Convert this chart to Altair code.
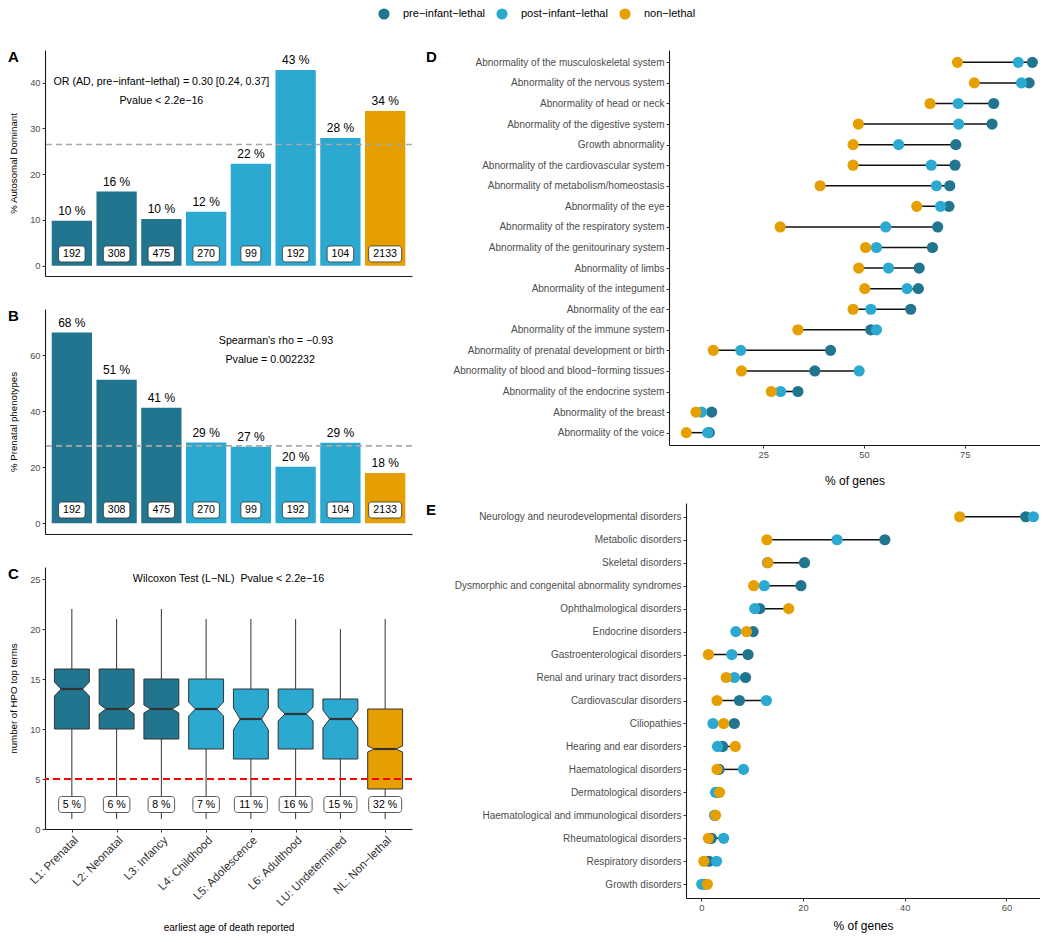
import json
import altair as alt
import pandas as pd

FONT = "Liberation Sans"

# ---------------- data ----------------
groups = ["pre−infant−lethal", "post−infant−lethal", "non−lethal"]
group_colors = ["#21758F", "#2BA9D1", "#E69F00"]

stages = ["L1: Prenatal", "L2: Neonatal", "L3: Infancy", "L4: Childhood",
          "L5: Adolescence", "L6: Adulthood", "LU: Undetermined", "NL: Non−lethal"]
stage_idx = [1, 2, 3, 4, 5, 6, 7, 8]
stage_group = [groups[0]] * 3 + [groups[1]] * 4 + [groups[2]]
stage_n = [192, 308, 475, 270, 99, 192, 104, 2133]

# Panel A: % autosomal dominant
ad_pct = [9.8, 16.2, 10.2, 11.8, 22.3, 42.8, 27.9, 33.8]
ad_overall = [26.5]
ad_notes = ["OR (AD, pre−infant−lethal) = 0.30 [0.24, 0.37]", "Pvalue < 2.2e−16"]
ad_note_x = [3.0, 3.0]
ad_note_y = [40.0, 36.0]
ad_n_y = 2.57

# Panel B: % prenatal phenotypes
pre_pct = [68.0, 51.2, 41.2, 28.8, 27.3, 20.2, 28.7, 17.9]
pre_overall = [27.6]
pre_notes = ["Spearman's rho = −0.93", "Pvalue = 0.002232"]
pre_note_x = [5.56, 5.43]
pre_note_y = [65.1, 58.2]
pre_n_y = 4.75

# Panel C: number of HPO top terms (boxplot stats)
hpo_min = [1, 1, 1, 1, 1, 1, 1, 1]
hpo_q1 = [10, 10, 9, 8, 7, 8, 7, 4]
hpo_med = [14, 12, 12, 12, 11, 11.5, 11, 8]
hpo_q3 = [16, 16, 15, 15, 14, 14, 13, 12]
hpo_max = [22, 21, 22, 21, 21, 21, 20, 21]
hpo_notch_lo = [13.3, 11.5, 11.6, 11.3, 9.9, 10.8, 10.1, 7.7]
hpo_notch_hi = [14.7, 12.5, 12.4, 12.7, 12.1, 12.2, 11.9, 8.3]
hpo_low_pct = [5, 6, 8, 7, 11, 16, 15, 32]
hpo_threshold = [5]
hpo_notes = ["Wilcoxon Test (L−NL) \u00a0Pvalue < 2.2e−16"]
hpo_note_x = [4.5]
hpo_note_y = [25.0]
hpo_lab_y = 2.45

# Panel D: HPO systems
d_cats = [
    "Abnormality of the musculoskeletal system",
    "Abnormality of the nervous system",
    "Abnormality of head or neck",
    "Abnormality of the digestive system",
    "Growth abnormality",
    "Abnormality of the cardiovascular system",
    "Abnormality of metabolism/homeostasis",
    "Abnormality of the eye",
    "Abnormality of the respiratory system",
    "Abnormality of the genitourinary system",
    "Abnormality of limbs",
    "Abnormality of the integument",
    "Abnormality of the ear",
    "Abnormality of the immune system",
    "Abnormality of prenatal development or birth",
    "Abnormality of blood and blood−forming tissues",
    "Abnormality of the endocrine system",
    "Abnormality of the breast",
    "Abnormality of the voice",
]
d_pre = [91.8, 91.0, 82.2, 81.8, 72.8, 72.6, 71.3, 71.1, 68.3, 67.0, 63.7, 63.5, 61.6, 51.7, 41.7, 37.8, 33.6, 12.2, 11.6]
d_post = [88.3, 89.1, 73.4, 73.5, 58.6, 66.7, 68.0, 69.0, 55.4, 53.1, 56.1, 60.7, 51.7, 53.1, 19.4, 48.8, 29.3, 9.7, 11.2]
d_non = [73.2, 77.4, 66.4, 48.6, 47.3, 47.3, 39.1, 63.1, 29.2, 50.4, 48.7, 50.2, 47.3, 33.6, 12.6, 19.6, 27.0, 8.3, 5.9]

# Panel E: disorder groups
e_cats = [
    "Neurology and neurodevelopmental disorders",
    "Metabolic disorders",
    "Skeletal disorders",
    "Dysmorphic and congenital abnormality syndromes",
    "Ophthalmological disorders",
    "Endocrine disorders",
    "Gastroenterological disorders",
    "Renal and urinary tract disorders",
    "Cardiovascular disorders",
    "Ciliopathies",
    "Hearing and ear disorders",
    "Haematological disorders",
    "Dermatological disorders",
    "Haematological and immunological disorders",
    "Rheumatological disorders",
    "Respiratory disorders",
    "Growth disorders",
]
e_pre = [63.8, 36.1, 20.3, 19.6, 11.5, 10.2, 9.2, 8.7, 7.5, 6.5, 4.2, 3.5, 3.2, 2.7, 2.0, 1.5, 0.6]
e_post = [65.3, 26.7, 13.0, 12.4, 10.5, 6.8, 6.0, 6.5, 12.8, 2.3, 3.2, 8.3, 2.8, 2.6, 4.4, 3.0, 0.1]
e_non = [50.8, 12.9, 13.1, 10.3, 17.2, 8.9, 1.4, 4.9, 3.1, 4.4, 6.7, 3.1, 3.6, 2.8, 1.4, 0.5, 1.2]

# ---------------- style / layout ----------------
W_LEFT = 367
X_DOM = [0.4, 8.6]
PX_PER_IDX = W_LEFT / (X_DOM[1] - X_DOM[0])
BOX_PX = 16.0
BAR_HALF = 0.45
BOX_HALF = 0.39
NOTCH_HALF = 0.24
TITLE_DY = 15
NOTE_LINE_PX = 19


def color_enc():
    return alt.Color(
        "group:N",
        scale=alt.Scale(domain=groups, range=group_colors),
        legend=alt.Legend(
            title=None, orient="none", legendX=333, legendY=-42, direction="horizontal",
            symbolType="circle", symbolSize=125, symbolStrokeWidth=0, gridAlign="none",
            labelFont=FONT, labelFontSize=11, labelColor="black",
            labelOffset=13, columnPadding=11, padding=0,
        ),
    )


def panel_title(letter, dx):
    return alt.TitleParams(text=letter, anchor="start", frame="group", dx=dx, dy=TITLE_DY,
                           offset=0, baseline="top", fontSize=15, fontWeight="bold",
                           font=FONT, color="black")


def label_boxes(df, text_expr, label_y, box_h, X, Y):
    base = alt.Chart(df).transform_calculate(
        lab=text_expr,
    ).transform_calculate(
        hw=f"(6.5 * length(datum.lab) + 7) / 2 / {PX_PER_IDX}",
    ).transform_calculate(
        bx0="datum.idx - datum.hw", bx1="datum.idx + datum.hw",
        ly=f"{label_y}", by0=f"{label_y - box_h / 2}", by1=f"{label_y + box_h / 2}",
    )
    rect = base.mark_rect(fill="white", stroke="#333333", strokeWidth=0.8, cornerRadius=3).encode(
        x=X("bx0"), x2="bx1", y=Y("by0"), y2="by1")
    txt = base.mark_text(font=FONT, fontSize=10.6, color="black").encode(
        x=X("idx"), y=Y("ly"), text="lab:N")
    return rect, txt


def note_layers(notes, note_x, note_y, X, Y, dy=0):
    out = []
    for t, nx, ny in zip(notes, note_x, note_y):
        out.append(
            alt.Chart(pd.DataFrame({"nx": [nx], "ny": [ny]})).mark_text(
                text=t, font=FONT, fontSize=10.7, color="black", baseline="middle",
                align="center", lineBreak="\n", lineHeight=NOTE_LINE_PX, dy=dy,
            ).encode(x=X("nx"), y=Y("ny"))
        )
    return out


def stacked_note(notes, note_x, note_y, X, Y):
    # one multi-line annotation, block centred on the mean of the lines' positions
    cx = sum(note_x) / len(note_x)
    cy = sum(note_y) / len(note_y)
    shift = -(len(notes) - 1) * NOTE_LINE_PX / 2
    return note_layers(["\n".join(notes)], [cx], [cy], X, Y, dy=shift)


def bar_panel(values, overall, notes, note_x, note_y, n_y, ydomain, yticks, ytitle, letter,
              height, stack_notes=False):
    df = pd.DataFrame({"idx": stage_idx, "group": stage_group, "pct": values, "n": stage_n})
    xs = alt.Scale(domain=X_DOM, nice=False, zero=False)
    ys = alt.Scale(domain=ydomain, nice=False, zero=False)
    xaxis = alt.Axis(title=None, labels=False, ticks=False, domain=True)
    yaxis = alt.Axis(title=ytitle, values=yticks, titlePadding=11, titleFontSize=9.7)

    def X(f):
        return alt.X(f, type="quantitative", scale=xs, axis=xaxis)

    def Y(f):
        return alt.Y(f, type="quantitative", scale=ys, axis=yaxis)

    box_h = BOX_PX * (ydomain[1] - ydomain[0]) / height
    base = alt.Chart(df).transform_calculate(
        x0=f"datum.idx - {BAR_HALF}", x1=f"datum.idx + {BAR_HALF}", zero="0",
        pct_lab="format(datum.pct, '.0f') + ' %'",
    )
    bars = base.mark_rect().encode(x=X("x0"), x2="x1", y=Y("zero"), y2="pct", color=color_enc())
    rule = alt.Chart(pd.DataFrame({"overall": overall})).mark_rule(
        color="#A9A9A9", strokeDash=[6, 4], strokeWidth=1.6).encode(y=Y("overall"))
    pct_txt = base.mark_text(baseline="bottom", dy=-3, font=FONT, fontSize=12, color="black").encode(
        x=X("idx"), y=Y("pct"), text="pct_lab:N")
    rect, ntxt = label_boxes(df, "'' + datum.n", n_y, box_h, X, Y)
    if stack_notes:
        notes_l = stacked_note(notes, note_x, note_y, X, Y)
    else:
        notes_l = note_layers(notes, note_x, note_y, X, Y)
    return alt.layer(bars, rule, pct_txt, rect, ntxt, *notes_l).properties(
        width=W_LEFT, height=height, title=panel_title(letter, -37))


def box_panel(height):
    df = pd.DataFrame({
        "idx": stage_idx, "group": stage_group, "ymin": hpo_min, "q1": hpo_q1, "med": hpo_med,
        "q3": hpo_q3, "ymax": hpo_max, "nlo": hpo_notch_lo, "nhi": hpo_notch_hi,
        "pct": hpo_low_pct,
    })
    ydomain = [0, 26.2]
    xs = alt.Scale(domain=X_DOM, nice=False, zero=False)
    ys = alt.Scale(domain=ydomain, nice=False, zero=False)
    label_expr = json.dumps(stages, ensure_ascii=False) + "[datum.value - 1]"
    xaxis = alt.Axis(values=stage_idx, labelExpr=label_expr, labelAngle=-45, labelAlign="right",
                     labelBaseline="top", labelFontSize=11.5, labelColor="#303030",
                     labelOverlap=False, title="earliest age of death reported",
                     titleFontSize=10, titlePadding=14)
    yaxis = alt.Axis(title="number of HPO top terms", values=[0, 5, 10, 15, 20, 25],
                     titlePadding=11, titleFontSize=9.7)

    def X(f):
        return alt.X(f, type="quantitative", scale=xs, axis=xaxis)

    def Y(f):
        return alt.Y(f, type="quantitative", scale=ys, axis=yaxis)

    base = alt.Chart(df)
    wlo = base.mark_rule(color="#333333", strokeWidth=1).encode(x=X("idx"), y=Y("ymin"), y2="q1")
    whi = base.mark_rule(color="#333333", strokeWidth=1).encode(x=X("idx"), y=Y("q3"), y2="ymax")
    boxes = base.transform_fold(
        ["q1", "nlo", "med", "nhi", "q3"], as_=["part", "yv"]
    ).transform_calculate(
        hw=f"datum.part == 'med' ? {NOTCH_HALF} : {BOX_HALF}"
    ).transform_calculate(
        xl="datum.idx - datum.hw", xr="datum.idx + datum.hw"
    ).mark_area(orient="horizontal", stroke="#333333", strokeWidth=1, opacity=1).encode(
        y=Y("yv:Q"), x=X("xl"), x2="xr", detail="idx:N", color=color_enc())
    med = base.transform_calculate(
        m0=f"datum.idx - {NOTCH_HALF}", m1=f"datum.idx + {NOTCH_HALF}"
    ).mark_rule(color="#333333", strokeWidth=2.2).encode(x=X("m0"), x2="m1", y=Y("med"))
    thr = alt.Chart(pd.DataFrame({"thr": hpo_threshold})).mark_rule(
        color="#FF0000", strokeDash=[7, 4], strokeWidth=1.8).encode(y=Y("thr"))
    box_h = BOX_PX * (ydomain[1] - ydomain[0]) / height
    rect, ptxt = label_boxes(df, "format(datum.pct, '.0f') + ' %'", hpo_lab_y, box_h, X, Y)
    notes_l = note_layers(hpo_notes, hpo_note_x, hpo_note_y, X, Y)
    return alt.layer(wlo, whi, boxes, med, thr, rect, ptxt, *notes_l).properties(
        width=W_LEFT, height=height, title=panel_title("C", -37))


def dumbbell(cats, pre, post, non, width, xdomain, xticks, letter, dx, title_pad):
    df = pd.DataFrame({
        "cat": cats * 3,
        "group": [g for g in groups for _ in cats],
        "val": pre + post + non,
    })
    xs = alt.Scale(domain=xdomain, nice=False, zero=False)
    ys = alt.Scale(type="point", padding=0.6)
    xaxis = alt.Axis(values=xticks, title="% of genes", titleFontSize=12, titlePadding=title_pad)
    yaxis = alt.Axis(title=None, labelFontSize=10, labelLimit=320)
    Y = alt.Y("cat:N", sort=cats, scale=ys, axis=yaxis)
    seg = alt.Chart(df).mark_rule(color="#111111", strokeWidth=1.5).encode(
        x=alt.X("min(val):Q", scale=xs, axis=xaxis), x2="max(val)", y=Y)
    pts = alt.Chart(df).mark_circle(size=125, opacity=1).encode(
        x=alt.X("val:Q", scale=xs, axis=xaxis), y=Y, color=color_enc())
    return alt.layer(seg, pts).properties(width=width, height=395, title=panel_title(letter, dx))


A = bar_panel(ad_pct, ad_overall, ad_notes, ad_note_x, ad_note_y, ad_n_y,
              [-2.25, 47.15], [0, 10, 20, 30, 40], "% Autosomal Dominant", "A", 226,
              stack_notes=True)
B = bar_panel(pre_pct, pre_overall, pre_notes, pre_note_x, pre_note_y, pre_n_y,
              [-3.8, 76.4], [0, 20, 40, 60], "% Prenatal phenotypes", "B", 225)
C = box_panel(262)

D = dumbbell(d_cats, d_pre, d_post, d_non, 371, [1.6, 93.7], [25, 50, 75], "D", -243, 16)
E = dumbbell(e_cats, e_pre, e_post, e_non, 354, [-3.0, 66.6], [0, 20, 40, 60], "E", -260, 8)

spacer = alt.Chart(pd.DataFrame({"v": [0]})).mark_point(opacity=0).encode(
    x=alt.X("v:Q", axis=None), y=alt.Y("v:Q", axis=None)).properties(width=17, height=10)

left = alt.vconcat(A, B, C, spacing=33).resolve_scale(color="shared")
right = alt.vconcat(
    D, alt.hconcat(spacer, E, spacing=0, bounds="flush").resolve_scale(color="shared"),
    spacing=16,
).resolve_scale(color="shared")

chart = alt.hconcat(left, right, spacing=13).resolve_scale(color="shared").properties(
    padding=0
).configure_view(stroke=None).configure_axis(
    labelFont=FONT, titleFont=FONT, labelFontSize=9.3, labelColor="#4D4D4D",
    titleColor="black", titleFontWeight="normal", domainColor="#1A1A1A", domainWidth=1.1,
    tickColor="#333333", tickSize=3, tickWidth=1, grid=False, labelFlush=False, labelPadding=2,
).configure_legend(labelFont=FONT)

chart.save("out.html", embed_options={"renderer": "svg", "actions": False})
